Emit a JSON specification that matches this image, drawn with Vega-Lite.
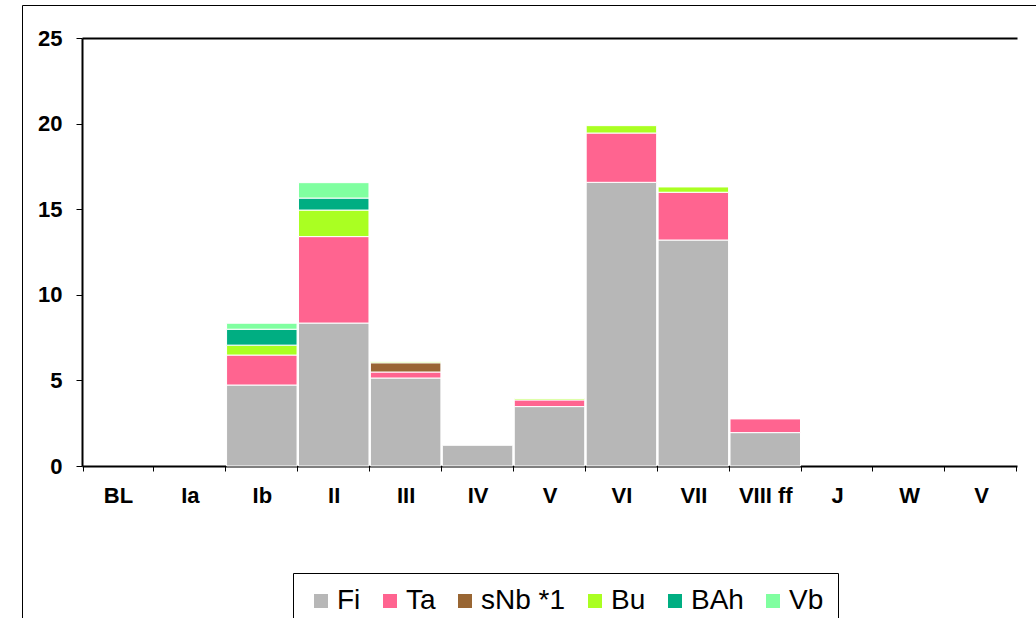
{
  "$schema": "https://vega.github.io/schema/vega-lite/v6.json",
  "autosize": {"type": "none"},
  "padding": {"left": 22, "top": 5, "right": 0, "bottom": 0},
  "width": 1014,
  "height": 613,
  "background": "white",
  "config": {
    "view": {"stroke": "#000000", "strokeWidth": 1},
    "font": "Liberation Sans"
  },
  "data": {
    "values": [
      {"stage": "Ib", "series": "Fi", "k": 1, "value": 4.73},
      {"stage": "Ib", "series": "Ta", "k": 2, "value": 1.75},
      {"stage": "Ib", "series": "Bu", "k": 4, "value": 0.58},
      {"stage": "Ib", "series": "BAh", "k": 5, "value": 0.93},
      {"stage": "Ib", "series": "Vb", "k": 6, "value": 0.35},
      {"stage": "II", "series": "Fi", "k": 1, "value": 8.35},
      {"stage": "II", "series": "Ta", "k": 2, "value": 5.05},
      {"stage": "II", "series": "Bu", "k": 4, "value": 1.55},
      {"stage": "II", "series": "BAh", "k": 5, "value": 0.7},
      {"stage": "II", "series": "Vb", "k": 6, "value": 0.9},
      {"stage": "III", "series": "Fi", "k": 1, "value": 5.14},
      {"stage": "III", "series": "Ta", "k": 2, "value": 0.35},
      {"stage": "III", "series": "sNb *1", "k": 3, "value": 0.54},
      {"stage": "III", "series": "Bu", "k": 4, "value": 0.08},
      {"stage": "IV", "series": "Fi", "k": 1, "value": 1.21},
      {"stage": "V", "series": "Fi", "k": 1, "value": 3.47},
      {"stage": "V", "series": "Ta", "k": 2, "value": 0.39},
      {"stage": "V", "series": "Bu", "k": 4, "value": 0.08},
      {"stage": "VI", "series": "Fi", "k": 1, "value": 16.57},
      {"stage": "VI", "series": "Ta", "k": 2, "value": 2.88},
      {"stage": "VI", "series": "Bu", "k": 4, "value": 0.43},
      {"stage": "VII", "series": "Fi", "k": 1, "value": 13.2},
      {"stage": "VII", "series": "Ta", "k": 2, "value": 2.79},
      {"stage": "VII", "series": "Bu", "k": 4, "value": 0.31},
      {"stage": "VIII ff", "series": "Fi", "k": 1, "value": 1.95},
      {"stage": "VIII ff", "series": "Ta", "k": 2, "value": 0.8}
    ]
  },
  "layer": [
    {
      "mark": {"type": "bar", "stroke": "white", "strokeWidth": 1},
      "encoding": {
        "x": {
          "field": "stage",
          "type": "nominal",
          "sort": null,
          "scale": {
            "domain": ["BL", "Ia", "Ib", "II", "III", "IV", "V", "VI", "VII", "VIII ff", "J", "W", "V (2)"],
            "range": [60, 995],
            "paddingInner": 0.02,
            "paddingOuter": 0.01
          },
          "axis": {
            "orient": "bottom",
            "offset": -152,
            "title": null,
            "labelAngle": 0,
            "labelExpr": "datum.label == 'V (2)' ? 'V' : datum.label",
            "labelFont": "Liberation Sans",
            "labelFontSize": 22,
            "labelFontWeight": "bold",
            "labelColor": "#000000",
            "labelPadding": 14,
            "tickBand": "extent",
            "tickSize": 5,
            "tickColor": "#000000",
            "domainColor": "#000000",
            "domainWidth": 2,
            "grid": false
          }
        },
        "y": {
          "field": "value",
          "type": "quantitative",
          "aggregate": "sum",
          "stack": "zero",
          "scale": {"domain": [0, 25], "range": [461, 33], "nice": false},
          "axis": {
            "orient": "left",
            "offset": -60,
            "title": null,
            "values": [0, 5, 10, 15, 20, 25],
            "labelFont": "Liberation Sans",
            "labelFontSize": 22,
            "labelFontWeight": "bold",
            "labelColor": "#000000",
            "labelPadding": 14,
            "tickSize": 6,
            "tickColor": "#000000",
            "domainColor": "#000000",
            "domainWidth": 2,
            "grid": false
          }
        },
        "color": {
          "field": "series",
          "type": "nominal",
          "scale": {
            "domain": ["Fi", "Ta", "sNb *1", "Bu", "BAh", "Vb"],
            "range": ["#B7B7B7", "#FF6490", "#996633", "#AAFF22", "#00AE82", "#80FFA0"]
          },
          "legend": {
            "orient": "none",
            "legendX": 271,
            "legendY": 568,
            "direction": "horizontal",
            "title": null,
            "strokeColor": "#000000",
            "fillColor": "white",
            "padding": 14,
            "symbolType": "square",
            "symbolSize": 196,
            "symbolStrokeWidth": 0,
            "labelFont": "Liberation Sans",
            "labelFontSize": 28,
            "labelColor": "#000000",
            "labelOffset": 2,
            "columnPadding": 15
          }
        },
        "order": {"field": "k", "type": "quantitative"}
      }
    },
    {
      "mark": {"type": "bar", "opacity": 0},
      "encoding": {
        "x": {
          "field": "stage",
          "type": "nominal",
          "sort": null,
          "axis": {
            "orient": "top",
            "offset": -33,
            "title": null,
            "labels": false,
            "ticks": false,
            "domainColor": "#000000",
            "domainWidth": 2,
            "grid": false
          }
        },
        "y": {"field": "value", "type": "quantitative", "aggregate": "sum", "stack": "zero"}
      }
    }
  ],
  "resolve": {"axis": {"x": "independent"}}
}
